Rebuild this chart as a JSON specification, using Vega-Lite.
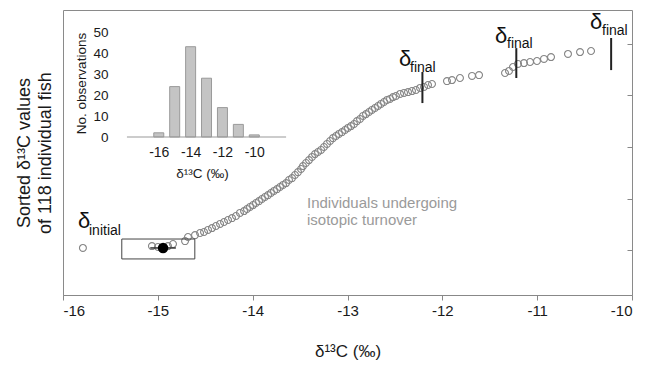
{
  "$schema": "https://vega.github.io/schema/vega-lite/v6.json",
  "width": 569,
  "height": 285,
  "autosize": {"type": "none"},
  "padding": {"left": 63, "top": 10, "right": 14, "bottom": 71},
  "background": "white",
  "config": {
    "view": {"stroke": "#8a8a8a", "strokeWidth": 1},
    "font": "Liberation Sans",
    "axis": {"labelFont": "Liberation Sans", "titleFont": "Liberation Sans", "titleFontWeight": "normal", "grid": false},
    "text": {"font": "Liberation Sans"}
  },
  "datasets": {
    "points": [
      {"x": -15.79, "y": 1.2},
      {"x": -15.062, "y": 2.3}, {"x": -14.998, "y": 1.8}, {"x": -14.893, "y": 2.3}, {"x": -14.84, "y": 3.5},
      {"x": -14.713, "y": 5.2}, {"x": -14.682, "y": 7.6},
      {"x": -14.608, "y": 8.7}, {"x": -14.555, "y": 9.9}, {"x": -14.513, "y": 10.5}, {"x": -14.471, "y": 11.7},
      {"x": -14.429, "y": 12.8}, {"x": -14.387, "y": 14.0}, {"x": -14.344, "y": 15.2}, {"x": -14.302, "y": 16.3},
      {"x": -14.26, "y": 17.5}, {"x": -14.218, "y": 18.6}, {"x": -14.176, "y": 19.8}, {"x": -14.134, "y": 21.6},
      {"x": -14.091, "y": 22.7}, {"x": -14.06, "y": 23.9}, {"x": -14.028, "y": 25.1}, {"x": -13.996, "y": 26.2},
      {"x": -13.965, "y": 27.4}, {"x": -13.933, "y": 28.5}, {"x": -13.902, "y": 29.7}, {"x": -13.87, "y": 30.9},
      {"x": -13.838, "y": 32.0}, {"x": -13.807, "y": 33.2}, {"x": -13.775, "y": 34.4}, {"x": -13.743, "y": 35.5},
      {"x": -13.712, "y": 36.7}, {"x": -13.68, "y": 37.9}, {"x": -13.648, "y": 39.0}, {"x": -13.617, "y": 40.8},
      {"x": -13.585, "y": 41.9}, {"x": -13.554, "y": 43.7}, {"x": -13.522, "y": 45.4}, {"x": -13.49, "y": 47.2},
      {"x": -13.469, "y": 48.9}, {"x": -13.438, "y": 50.7}, {"x": -13.406, "y": 52.4}, {"x": -13.374, "y": 54.2},
      {"x": -13.343, "y": 55.9}, {"x": -13.311, "y": 57.1}, {"x": -13.279, "y": 58.3}, {"x": -13.248, "y": 60.0},
      {"x": -13.216, "y": 61.8}, {"x": -13.184, "y": 63.5}, {"x": -13.153, "y": 65.2}, {"x": -13.121, "y": 66.4},
      {"x": -13.09, "y": 67.6}, {"x": -13.058, "y": 68.7}, {"x": -13.026, "y": 69.9}, {"x": -12.995, "y": 71.1},
      {"x": -12.963, "y": 72.2}, {"x": -12.931, "y": 73.4}, {"x": -12.9, "y": 75.1}, {"x": -12.868, "y": 76.3},
      {"x": -12.836, "y": 78.1}, {"x": -12.805, "y": 79.2}, {"x": -12.773, "y": 80.4}, {"x": -12.742, "y": 81.6},
      {"x": -12.71, "y": 82.7}, {"x": -12.678, "y": 83.9}, {"x": -12.647, "y": 85.1}, {"x": -12.615, "y": 86.2},
      {"x": -12.583, "y": 87.4}, {"x": -12.552, "y": 88.0}, {"x": -12.52, "y": 89.1}, {"x": -12.489, "y": 89.7},
      {"x": -12.446, "y": 90.9}, {"x": -12.404, "y": 91.5}, {"x": -12.362, "y": 92.0}, {"x": -12.32, "y": 92.6},
      {"x": -12.278, "y": 93.2}, {"x": -12.235, "y": 94.4}, {"x": -12.193, "y": 95.0}, {"x": -12.151, "y": 96.1},
      {"x": -12.109, "y": 96.7},
      {"x": -11.951, "y": 98.4}, {"x": -11.898, "y": 99.0}, {"x": -11.814, "y": 100.2}, {"x": -11.687, "y": 101.4},
      {"x": -11.613, "y": 101.9}, {"x": -11.339, "y": 103.1}, {"x": -11.297, "y": 104.3}, {"x": -11.255, "y": 106.6},
      {"x": -11.202, "y": 108.4}, {"x": -11.139, "y": 108.9}, {"x": -11.075, "y": 109.5}, {"x": -11.002, "y": 110.1},
      {"x": -10.928, "y": 111.3}, {"x": -10.854, "y": 112.4}, {"x": -10.675, "y": 114.2}, {"x": -10.548, "y": 115.3},
      {"x": -10.432, "y": 115.9}
    ],
    "box": [{"x": -15.38, "x2": -14.61, "y": 6.4, "y2": -5.2}],
    "errbar": [{"x": -15.08, "x2": -14.81, "y": 1.2}],
    "mean": [{"x": -14.945, "y": 1.2}],
    "finals": [
      {"x": -12.21, "y": 103.7, "y2": 85.6},
      {"x": -11.22, "y": 117.6, "y2": 100.2},
      {"x": -10.22, "y": 123.5, "y2": 104.8}
    ],
    "deltas": [
      {"x": -12.457, "y": 107.2, "label": "δ"},
      {"x": -11.444, "y": 120.6, "label": "δ"},
      {"x": -10.443, "y": 128.7, "label": "δ"},
      {"x": -15.842, "y": 12.8, "label": "δ"}
    ],
    "subs": [
      {"x": -12.341, "y": 103.7, "label": "final"},
      {"x": -11.318, "y": 117.6, "label": "final"},
      {"x": -10.316, "y": 125.2, "label": "final"},
      {"x": -15.726, "y": 8.7, "label": "initial"}
    ],
    "note": [{"x": -13.427, "y": 24.5, "label": "Individuals undergoing\nisotopic turnover"}],
    "hist": [
      {"x": -16, "count": 2},
      {"x": -15, "count": 24},
      {"x": -14, "count": 43},
      {"x": -13, "count": 28},
      {"x": -12, "count": 14},
      {"x": -11, "count": 6},
      {"x": -10, "count": 1}
    ],
    "baseline": [{"x": -18, "x2": -8, "y": 0}]
  },
  "layer": [
    {
      "encoding": {
        "x": {
          "field": "x", "type": "quantitative",
          "scale": {"domain": [-16, -10], "nice": false, "zero": false},
          "axis": {
            "orient": "bottom", "values": [-16, -15, -14, -13, -12, -11, -10],
            "labelExpr": "'' + datum.value", "labelFontSize": 15, "labelColor": "#1a1a1a",
            "labelPadding": 3, "tickSize": 5, "tickColor": "#888", "domainColor": "#888",
            "title": "δ¹³C (‰)", "titleFontSize": 17, "titleColor": "#1a1a1a", "titlePadding": 25
          }
        },
        "y": {
          "field": "y", "type": "quantitative",
          "scale": {"domain": [-26.2, 139.8], "nice": false, "zero": false},
          "axis": {
            "orient": "left", "labels": false, "ticks": false, "domain": false,
            "title": ["Sorted δ¹³C values", "of 118 individual fish"],
            "titleFontSize": 18, "titleColor": "#1a1a1a", "titleLineHeight": 21, "titlePadding": 9
          }
        }
      },
      "layer": [
        {"data": {"name": "points"}, "mark": {"type": "point", "shape": "circle", "filled": false, "stroke": "#868686", "strokeWidth": 1.1, "size": 48, "opacity": 1}},
        {"data": {"name": "box"}, "mark": {"type": "rect", "fill": null, "fillOpacity": 0, "stroke": "#444", "strokeWidth": 1}, "encoding": {"x2": {"field": "x2"}, "y2": {"field": "y2"}}},
        {"data": {"name": "errbar"}, "mark": {"type": "rule", "stroke": "#333", "strokeWidth": 1.5}, "encoding": {"x2": {"field": "x2"}}},
        {"data": {"name": "mean"}, "mark": {"type": "point", "shape": "circle", "filled": true, "color": "#000", "size": 110, "opacity": 1}},
        {"data": {"name": "finals"}, "mark": {"type": "rule", "stroke": "#222", "strokeWidth": 2}, "encoding": {"y2": {"field": "y2"}}},
        {"data": {"name": "deltas"}, "mark": {"type": "text", "align": "left", "baseline": "alphabetic", "fontSize": 22, "color": "#111"}, "encoding": {"text": {"field": "label"}}},
        {"data": {"name": "subs"}, "mark": {"type": "text", "align": "left", "baseline": "alphabetic", "fontSize": 14, "color": "#111"}, "encoding": {"text": {"field": "label"}}}
      ]
    },
    {
      "encoding": {
        "x": {
          "field": "x", "type": "quantitative",
          "scale": {"domain": [-21.704, 13.42], "nice": false, "zero": false},
          "axis": {
            "orient": "bottom", "offset": -158, "values": [-16, -14, -12, -10],
            "labelExpr": "'' + datum.value", "labelFontSize": 14, "labelColor": "#1a1a1a",
            "ticks": false, "domain": false, "labelPadding": 8,
            "title": "δ¹³C (‰)", "titleFontSize": 13.5, "titleColor": "#1a1a1a", "titlePadding": 7,
            "titleX": 139
          }
        },
        "y": {
          "type": "quantitative",
          "scale": {"domain": [-75.24, 60.48], "nice": false, "zero": false},
          "axis": {
            "orient": "left", "offset": -60, "values": [0, 10, 20, 30, 40, 50],
            "labelFontSize": 13.5, "labelColor": "#1a1a1a", "ticks": false, "domain": false, "labelPadding": 15,
            "title": "No. observations", "titleFontSize": 13.5, "titleColor": "#1a1a1a",
            "titleX": -35, "titleY": 73
          }
        }
      },
      "layer": [
        {"data": {"name": "hist"}, "mark": {"type": "bar", "size": 10, "fill": "#c4c4c4", "stroke": "#9a9a9a", "strokeWidth": 1}, "encoding": {"y": {"field": "count"}, "y2": {"datum": 0}}},
        {"data": {"name": "baseline"}, "mark": {"type": "rule", "stroke": "#999", "strokeWidth": 1}, "encoding": {"x2": {"field": "x2"}, "y": {"field": "y"}}}
      ]
    },
    {
      "data": {"name": "note"},
      "mark": {"type": "text", "align": "left", "baseline": "alphabetic", "fontSize": 15, "color": "#9a9a9a", "lineBreak": "\n", "lineHeight": 17},
      "encoding": {
        "x": {"field": "x", "type": "quantitative", "scale": {"domain": [-16, -10], "nice": false, "zero": false}, "axis": null},
        "y": {
          "field": "y", "type": "quantitative",
          "scale": {"domain": [-26.2, 139.8], "nice": false, "zero": false},
          "axis": {"orient": "right", "labels": false, "domain": false, "ticks": true, "tickSize": -5, "tickColor": "#888", "values": [0, 30, 60, 90, 120], "title": null}
        },
        "text": {"field": "label"}
      }
    }
  ],
  "resolve": {"scale": {"x": "independent", "y": "independent"}}
}
